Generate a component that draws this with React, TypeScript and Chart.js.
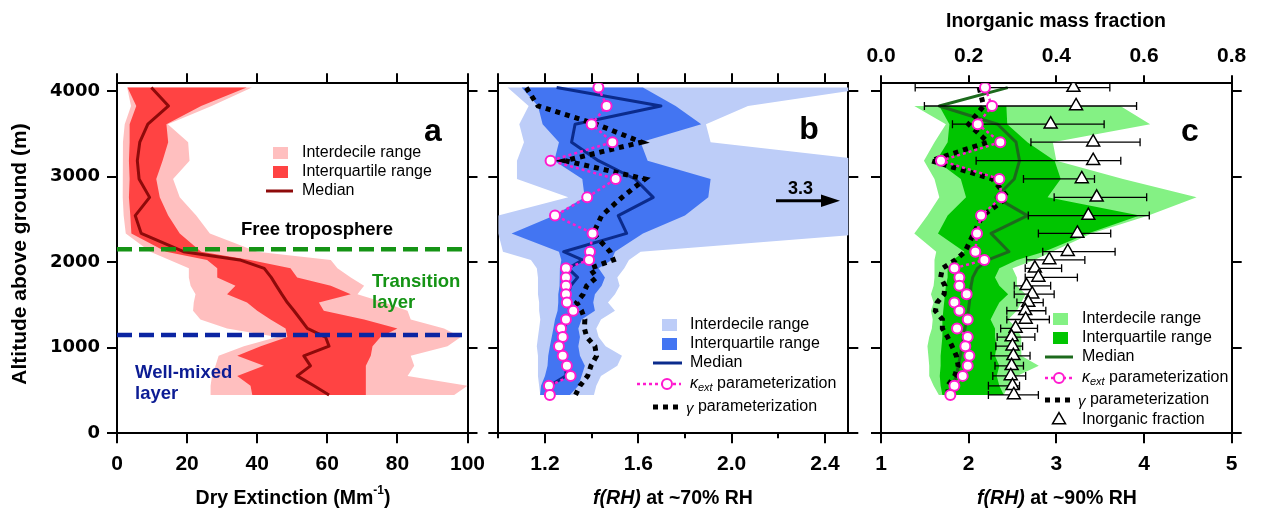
import React, { useEffect, useRef } from 'react';
import { Chart, registerables } from 'chart.js';

Chart.register(...registerables);

// ======================= DATA =======================
// Altitude levels (m above ground) shared by the three profiles
const ALT = [4040, 3825, 3612, 3402, 3186, 2972, 2757, 2544, 2336, 2122, 2026, 1928, 1822, 1723, 1626, 1528, 1432, 1330, 1225, 1125, 1018, 905, 788, 671, 555, 448];
const Y_TICKS = [0, 1000, 2000, 3000, 4000];

// Panel a: dry extinction (Mm-1)
const A_P10 = [2.9, 4.0, 2.2, 1.7, 1.7, 1.7, 1.5, 1.9, 2.5, 9.5, 15, 20.5, 20.5, 21, 22.4, 21.9, 21.7, 23.8, 31.4, 45.7, 36.2, 29, 28.1, 27.1, 26.7, 26.7];
const A_P25 = [3.0, 5.5, 3.6, 3.6, 3.4, 3.6, 3.4, 3.8, 4.1, 14, 25.7, 28.6, 28.6, 33.8, 31.4, 37.1, 40, 43.8, 48.1, 48.6, 41, 34.3, 41.9, 34.3, 38.1, 38.6];
const A_MED = [9.8, 14.7, 8.8, 6.5, 5.8, 6.3, 9.3, 5.2, 6.9, 19, 35, 42, 44, 45.5, 47, 48.6, 50.5, 52.4, 54.3, 59.5, 60.5, 53.3, 55.2, 51.4, 56.2, 60.5];
const A_P75 = [37, 24, 14.1, 14.6, 13, 11.2, 12.2, 14.6, 17.9, 24, 38, 49.5, 51.4, 61, 66.7, 57.6, 59, 70.5, 80, 75.2, 72.9, 72.4, 71, 71, 71, 71];
const A_P90 = [38.5, 27, 14.5, 20.3, 20.7, 16, 17.9, 22.6, 26.5, 40, 61, 62.9, 66.7, 70.5, 68.6, 76.2, 82.9, 83.8, 93.3, 98.1, 94.3, 83.8, 84.8, 82.9, 100, 96.2];
const FREE_TROPOSPHERE_ALT = 2150;
const MIXED_LAYER_TOP_ALT = 1148;
const A_X_TICKS = [0, 20, 40, 60, 80, 100];

// Panel b: f(RH) at ~70% RH
const B_P10 = [1.04, 1.13, 1.09, 1.11, 1.08, 1.08, 1.30, 1.0, 1.0, 1.02, 1.14, 1.165, 1.17, 1.17, 1.17, 1.175, 1.175, 1.18, 1.175, 1.17, 1.165, 1.17, 1.17, 1.17, 1.175, 1.18];
const B_P25 = [1.10, 1.17, 1.19, 1.26, 1.24, 1.36, 1.37, 1.24, 1.057, 1.26, 1.27, 1.264, 1.264, 1.261, 1.257, 1.257, 1.254, 1.243, 1.236, 1.229, 1.221, 1.214, 1.211, 1.20, 1.183, 1.179];
const B_MED = [1.25, 1.697, 1.329, 1.314, 1.429, 1.586, 1.664, 1.514, 1.55, 1.28, 1.36, 1.30, 1.34, 1.31, 1.30, 1.29, 1.31, 1.30, 1.28, 1.28, 1.27, 1.28, 1.29, 1.29, 1.22, 1.22];
const B_P75 = [1.62, 1.76, 1.87, 1.61, 1.64, 1.91, 1.90, 1.80, 1.62, 1.50, 1.486, 1.43, 1.457, 1.443, 1.414, 1.407, 1.414, 1.357, 1.343, 1.35, 1.343, 1.35, 1.371, 1.357, 1.343, 1.307];
const B_P90 = [2.6, 2.07, 1.89, 1.91, 2.6, 3.3, 3.3, 2.6, 2.6, 1.61, 1.56, 1.54, 1.51, 1.52, 1.50, 1.47, 1.50, 1.44, 1.42, 1.43, 1.46, 1.53, 1.51, 1.44, 1.42, 1.41];
const B_KAPPA = [1.429, 1.464, 1.40, 1.489, 1.224, 1.503, 1.381, 1.243, 1.404, 1.393, 1.389, 1.29, 1.29, 1.29, 1.29, 1.294, 1.321, 1.29, 1.269, 1.276, 1.26, 1.276, 1.294, 1.31, 1.217, 1.221];
const B_GAMMA = [1.12, 1.17, 1.42, 1.614, 1.286, 1.629, 1.53, 1.443, 1.407, 1.479, 1.493, 1.393, 1.421, 1.379, 1.364, 1.336, 1.357, 1.371, 1.369, 1.379, 1.414, 1.421, 1.397, 1.383, 1.35, 1.331];
const B_X_TICKS = [1.0, 1.2, 1.4, 1.6, 1.8, 2.0, 2.2, 2.4];
const B_X_MAJOR = [1.2, 1.6, 2.0, 2.4];
const B_X_MINOR = [1.0, 1.4, 1.8, 2.2];
const B_OFFSCALE_LABEL = '3.3';

// Panel c: f(RH) at ~90% RH (bottom) and inorganic mass fraction (top)
const C_BAND_ALT = ALT.slice(1);
const C_P10 = [1.38, 1.74, 1.61, 1.49, 1.61, 1.665, 1.53, 1.38, 1.63, 1.61, 1.61, 1.61, 1.60, 1.57, 1.60, 1.57, 1.59, 1.58, 1.55, 1.53, 1.54, 1.55, 1.55, 1.60, 1.66];
const C_P25 = [1.665, 1.78, 1.76, 1.63, 1.91, 1.97, 1.76, 1.65, 1.95, 1.82, 1.76, 1.76, 1.74, 1.73, 1.72, 1.71, 1.70, 1.70, 1.70, 1.69, 1.68, 1.68, 1.67, 1.68, 1.70];
const C_P75 = [2.43, 2.44, 2.67, 2.98, 3.05, 2.90, 3.95, 3.36, 2.86, 2.55, 2.35, 2.30, 2.35, 2.45, 2.35, 2.30, 2.25, 2.30, 2.30, 2.32, 2.30, 2.35, 2.32, 2.35, 2.40];
const C_P90 = [3.73, 4.07, 2.96, 3.0, 3.76, 4.6, 4.05, 3.4, 2.95, 2.75, 2.50, 2.55, 2.55, 2.65, 2.60, 2.55, 2.45, 2.55, 2.60, 2.60, 2.60, 2.80, 2.55, 2.45, 2.40];
const C_MED = [2.445, 1.665, 2.33, 2.54, 2.58, 2.52, 2.31, 2.67, 2.255, 2.46, 2.22, 2.10, 2.046, 2.027, 2.02, 2.008, 1.996, 1.981, 1.958, 1.943, 1.924, 1.905, 1.882, 1.859, 1.818, 1.76];
const C_KAPPA = [2.186, 2.266, 2.103, 2.361, 1.684, 2.35, 2.376, 2.141, 2.095, 2.076, 2.179, 1.837, 1.894, 1.894, 1.977, 1.837, 1.894, 1.989, 1.867, 1.989, 1.962, 2.008, 1.989, 1.932, 1.837, 1.791];
const C_GAMMA = [2.12, 2.17, 2.0, 2.22, 1.57, 2.27, 2.445, 2.16, 2.057, 1.958, 1.85, 1.70, 1.68, 1.73, 1.72, 1.64, 1.62, 1.70, 1.70, 1.76, 1.81, 1.86, 1.88, 1.84, 1.76, 1.77];
const C_FRAC = [0.439, 0.445, 0.387, 0.484, 0.484, 0.458, 0.492, 0.473, 0.448, 0.426, 0.384, 0.351, 0.359, 0.332, 0.345, 0.336, 0.329, 0.330, 0.307, 0.298, 0.300, 0.302, 0.298, 0.296, 0.300, 0.303];
const C_FRAC_LO = [0.078, 0.099, 0.163, 0.342, 0.217, 0.325, 0.395, 0.336, 0.359, 0.369, 0.332, 0.329, 0.329, 0.304, 0.304, 0.310, 0.287, 0.287, 0.273, 0.265, 0.262, 0.251, 0.260, 0.255, 0.245, 0.245];
const C_FRAC_HI = [0.522, 0.583, 0.509, 0.591, 0.547, 0.487, 0.606, 0.612, 0.524, 0.534, 0.465, 0.412, 0.448, 0.387, 0.395, 0.370, 0.376, 0.384, 0.357, 0.351, 0.323, 0.340, 0.325, 0.330, 0.316, 0.359];
const C_X_TICKS = [1, 2, 3, 4, 5];
const C_TOP_TICKS = [0, 0.2, 0.4, 0.6, 0.8];

// ======================= LAYOUT / STYLE =======================
const W = 1265;
const H = 515;
const PLOT_TOP = 83.3;
const PLOT_BOTTOM = 433.3;
const Y_MAX = 4090;
const A_LEFT = 117, A_RIGHT = 467.5;
const B_LEFT = 498.3, B_RIGHT = 848.3;
const C_LEFT = 881, C_RIGHT = 1231.7;
const TICK = 10;
const X_TITLE_Y = 499;

const SANS = '"Liberation Sans", Arial, Helvetica, sans-serif';
const DEJAVU = '"DejaVu Sans", Verdana, sans-serif';
const F = (size: number, weight = 'normal', style = 'normal') => `${style} ${weight} ${size}px ${SANS}`;
const X_TICK_FONT = { family: SANS, weight: 'bold', size: 21, lineHeight: 1 };
const Y_TICK_FONT = { family: DEJAVU, weight: 'bold', size: 18, lineHeight: 1 };

const A_LIGHT = '#FFBFBF';
const A_DARK = '#FF4343';
const A_LINE = '#8E0A0A';
const FT_GREEN = '#159415';
const ML_BLUE = '#0B25A2';
const ML_TEXT = '#0C1C94';
const B_LIGHT = '#BDCDF8';
const B_DARK = '#4375F2';
const B_LINE = '#0B2B8C';
const MAGENTA = '#FF1ACF';
const C_LIGHT = '#84F184';
const C_DARK = '#00C500';
const C_LINE = '#1C6A1C';

// ======================= HELPERS =======================
const pts = (xs: number[], ys: number[]) => xs.map((x, i) => ({ x, y: ys[i] }));
const band = (lo: number[], hi: number[], ys: number[]) => [...pts(lo, ys), ...pts(hi, ys).reverse()];
const errorBars = (lo: number[], hi: number[], ys: number[]) =>
  ys.flatMap((y, i) => [{ x: lo[i], y }, { x: hi[i], y }, { x: null as any, y }]);

function axis(position: string, min: number, max: number, ticks: number[], o: any) {
  const vertical = position === 'left' || position === 'right';
  return {
    type: 'linear',
    axis: vertical ? 'y' : 'x',
    position,
    min,
    max,
    bounds: 'data',
    afterBuildTicks: (s: any) => { s.ticks = ticks.map((v) => ({ value: v })); },
    afterFit: (s: any) => { if (vertical) s.width = o.size; else s.height = o.size; },
    grid: { display: true, drawOnChartArea: false, drawTicks: true, tickLength: o.tickLength ?? TICK, tickWidth: 2, tickColor: '#000', color: '#000', lineWidth: 2 },
    border: { display: true, color: '#000', width: 2 },
    ticks: o.label
      ? { display: true, autoSkip: false, maxRotation: 0, minRotation: 0, color: '#000', font: o.font, padding: o.padding ?? 0, callback: (v: any) => o.label(Number(v)) }
      : { display: false },
    title: { display: false },
  };
}

function baseOptions(padding: any, scales: any) {
  return {
    responsive: false,
    maintainAspectRatio: false,
    animation: false,
    devicePixelRatio: 1,
    events: [],
    layout: { padding },
    plugins: { legend: { display: false }, tooltip: { enabled: false }, title: { display: false } },
    elements: { line: { tension: 0 } },
    scales,
  };
}

const bandDs = (label: string, lo: number[], hi: number[], ys: number[], color: string, order: number) => ({
  type: 'line', label, data: band(lo, hi, ys), fill: 'shape', backgroundColor: color,
  borderColor: 'rgba(0,0,0,0)', borderWidth: 0, pointRadius: 0, order, xAxisID: 'x', yAxisID: 'y',
});
const lineDs = (label: string, xs: number[], ys: number[], color: string, width: number, order: number, extra: any = {}) => ({
  type: 'line', label, data: pts(xs, ys), borderColor: color, borderWidth: width, pointRadius: 0, fill: false,
  borderJoinStyle: 'round', order, xAxisID: 'x', yAxisID: 'y', ...extra,
});
const kappaDs = (xs: number[], order: number) => lineDs('κext parameterization', xs, ALT, MAGENTA, 2.5, order, {
  borderDash: [3, 3], pointRadius: 5, pointStyle: 'circle', pointBackgroundColor: '#fff', pointBorderColor: MAGENTA, pointBorderWidth: 2,
});
const gammaDs = (xs: number[], order: number) => lineDs('γ parameterization', xs, ALT, '#000', 5, order, { borderDash: [5, 5], borderCapStyle: 'butt', borderJoinStyle: 'miter' });

type Part = { s: string; font: string; dy?: number; color?: string };
function drawParts(ctx: CanvasRenderingContext2D, parts: Part[], x: number, y: number, align = 'left', color = '#000') {
  ctx.textBaseline = 'middle';
  ctx.textAlign = 'left';
  let total = 0;
  for (const p of parts) { ctx.font = p.font; total += ctx.measureText(p.s).width; }
  let cx = align === 'center' ? x - total / 2 : x;
  for (const p of parts) {
    ctx.font = p.font;
    ctx.fillStyle = p.color || color;
    ctx.fillText(p.s, cx, y + (p.dy || 0));
    cx += ctx.measureText(p.s).width;
  }
}
const label = (ctx: any, s: string, x: number, y: number) => drawParts(ctx, [{ s, font: F(16) }], x, y);
function swatch(ctx: any, x: number, cy: number, color: string) {
  ctx.fillStyle = color;
  ctx.fillRect(x, cy - 6, 15, 12);
}
function hline(ctx: any, x1: number, x2: number, y: number, color: string, width: number, dash: number[] = []) {
  ctx.save();
  ctx.strokeStyle = color; ctx.lineWidth = width; ctx.setLineDash(dash); ctx.lineCap = 'butt';
  ctx.beginPath(); ctx.moveTo(x1, y); ctx.lineTo(x2, y); ctx.stroke();
  ctx.restore();
}
function circle(ctx: any, x: number, y: number) {
  ctx.beginPath(); ctx.arc(x, y, 5, 0, Math.PI * 2);
  ctx.fillStyle = '#fff'; ctx.fill(); ctx.strokeStyle = MAGENTA; ctx.lineWidth = 2; ctx.stroke();
}
function triangle(ctx: any, x: number, y: number, r: number) {
  ctx.beginPath();
  for (let k = 0; k < 3; k++) {
    const a = (k * 2 * Math.PI) / 3;
    const px = x + Math.sin(a) * r, py = y - Math.cos(a) * r;
    if (k === 0) ctx.moveTo(px, py); else ctx.lineTo(px, py);
  }
  ctx.closePath(); ctx.fillStyle = '#fff'; ctx.fill(); ctx.strokeStyle = '#000'; ctx.lineWidth = 1.5; ctx.stroke();
}
const kappaLabel = (): Part[] => [
  { s: 'κ', font: F(16, 'normal', 'italic') },
  { s: 'ext', font: F(11, 'normal', 'italic'), dy: 4 },
  { s: ' parameterization', font: F(16) },
];
const gammaLabel = (): Part[] => [
  { s: 'γ', font: F(15, 'normal', 'italic'), dy: 2 },
  { s: ' parameterization', font: F(16) },
];
const decor = (fn: (ctx: CanvasRenderingContext2D, chart: any) => void) => ({
  id: 'decor',
  afterDraw(chart: any) { const ctx = chart.ctx; ctx.save(); fn(ctx, chart); ctx.restore(); },
});

// ======================= PANELS =======================
function makeA(canvas: HTMLCanvasElement) {
  return new Chart(canvas, {
    type: 'line',
    data: {
      datasets: [
        lineDs('Free troposphere', [A_X_TICKS[0], A_X_TICKS[A_X_TICKS.length - 1]], [FREE_TROPOSPHERE_ALT, FREE_TROPOSPHERE_ALT], FT_GREEN, 4.5, 1, { borderDash: [15, 7], borderJoinStyle: 'miter' }),
        lineDs('Well-mixed layer', [A_X_TICKS[0], A_X_TICKS[A_X_TICKS.length - 1]], [MIXED_LAYER_TOP_ALT, MIXED_LAYER_TOP_ALT], ML_BLUE, 4.5, 1, { borderDash: [15, 7], borderJoinStyle: 'miter' }),
        lineDs('Median', A_MED, ALT, A_LINE, 3, 2),
        bandDs('Interquartile range', A_P25, A_P75, ALT, A_DARK, 8),
        bandDs('Interdecile range', A_P10, A_P90, ALT, A_LIGHT, 9),
      ],
    },
    options: baseOptions({ left: 0, right: W - A_RIGHT - TICK, top: PLOT_TOP - TICK, bottom: 0 }, {
      x: axis('bottom', 0, 100, A_X_TICKS, { size: H - PLOT_BOTTOM, font: X_TICK_FONT, padding: 10.6, label: (v: number) => String(v) }),
      xTop: axis('top', 0, 100, A_X_TICKS, { size: TICK }),
      y: axis('left', 0, Y_MAX, Y_TICKS, { size: A_LEFT, font: Y_TICK_FONT, padding: 7, label: (v: number) => String(v) }),
      yR: axis('right', 0, Y_MAX, Y_TICKS, { size: TICK }),
    }),
    plugins: [decor((ctx) => {
      ctx.save();
      ctx.translate(20.7, 254);
      ctx.rotate(-Math.PI / 2);
      drawParts(ctx, [{ s: 'Altitude above ground (m)', font: F(21, 'bold') }], 0, 0, 'center');
      ctx.restore();
      drawParts(ctx, [
        { s: 'Dry Extinction (Mm', font: F(19.5, 'bold') },
        { s: '-1', font: F(12, 'bold'), dy: -8 },
        { s: ')', font: F(19.5, 'bold') },
      ], 293, X_TITLE_Y, 'center');
      drawParts(ctx, [{ s: 'a', font: F(32, 'bold') }], 433, 132, 'center');
      swatch(ctx, 273, 153, A_LIGHT);
      swatch(ctx, 273, 172, A_DARK);
      hline(ctx, 266, 293, 191, A_LINE, 3);
      label(ctx, 'Interdecile range', 302, 153);
      label(ctx, 'Interquartile range', 302, 172);
      label(ctx, 'Median', 302, 191);
      drawParts(ctx, [{ s: 'Free troposphere', font: F(18.5, 'bold') }], 317, 230, 'center');
      drawParts(ctx, [{ s: 'Transition', font: F(18.5, 'bold') }], 372, 282, 'left', FT_GREEN);
      drawParts(ctx, [{ s: 'layer', font: F(18.5, 'bold') }], 372, 303, 'left', FT_GREEN);
      drawParts(ctx, [{ s: 'Well-mixed', font: F(18.5, 'bold') }], 135, 373, 'left', ML_TEXT);
      drawParts(ctx, [{ s: 'layer', font: F(18.5, 'bold') }], 135, 394, 'left', ML_TEXT);
    })],
  } as any);
}

function makeB(canvas: HTMLCanvasElement) {
  return new Chart(canvas, {
    type: 'line',
    data: {
      datasets: [
        kappaDs(B_KAPPA, 1),
        gammaDs(B_GAMMA, 2),
        lineDs('Median', B_MED, ALT, B_LINE, 3, 3),
        bandDs('Interquartile range', B_P25, B_P75, ALT, B_DARK, 8),
        bandDs('Interdecile range', B_P10, B_P90, ALT, B_LIGHT, 9),
      ],
    },
    options: baseOptions({ left: B_LEFT - TICK, right: W - B_RIGHT - TICK, top: PLOT_TOP - TICK, bottom: 0 }, {
      x: axis('bottom', 1.0, 2.5, B_X_MAJOR, { size: H - PLOT_BOTTOM, font: X_TICK_FONT, padding: 10.6, label: (v: number) => v.toFixed(1) }),
      xTop: axis('top', 1.0, 2.5, B_X_TICKS, { size: TICK }),
      y: axis('left', 0, Y_MAX, Y_TICKS, { size: TICK }),
      yR: axis('right', 0, Y_MAX, Y_TICKS, { size: TICK }),
    }),
    plugins: [decor((ctx, chart) => {
      const xs = chart.scales.x;
      ctx.strokeStyle = '#000';
      ctx.lineWidth = 2;
      for (const v of B_X_MINOR) {
        const px = Math.round(xs.getPixelForValue(v));
        ctx.beginPath(); ctx.moveTo(px, chart.chartArea.bottom); ctx.lineTo(px, chart.chartArea.bottom + 5); ctx.stroke();
      }
      drawParts(ctx, [
        { s: 'f(RH)', font: F(19.5, 'bold', 'italic') },
        { s: ' at ~70% RH', font: F(19.5, 'bold') },
      ], 673, X_TITLE_Y, 'center');
      drawParts(ctx, [{ s: 'b', font: F(32, 'bold') }], 809, 130, 'center');
      drawParts(ctx, [{ s: B_OFFSCALE_LABEL, font: F(18, 'bold') }], 800.5, 189.5, 'center');
      hline(ctx, 776, 826, 200.7, '#000', 3);
      ctx.beginPath(); ctx.moveTo(821, 194.5); ctx.lineTo(840, 200.7); ctx.lineTo(821, 206.9); ctx.closePath();
      ctx.fillStyle = '#000'; ctx.fill();
      swatch(ctx, 662, 325, B_LIGHT);
      swatch(ctx, 662, 344, B_DARK);
      hline(ctx, 653, 682, 363, B_LINE, 3);
      hline(ctx, 637, 681, 384, MAGENTA, 2.5, [3, 3]);
      circle(ctx, 667, 384);
      hline(ctx, 653, 681, 407, '#000', 5, [5, 5]);
      label(ctx, 'Interdecile range', 690, 325);
      label(ctx, 'Interquartile range', 690, 344);
      label(ctx, 'Median', 690, 363);
      drawParts(ctx, kappaLabel(), 690, 384);
      drawParts(ctx, gammaLabel(), 686, 407);
    })],
  } as any);
}

function makeC(canvas: HTMLCanvasElement) {
  return new Chart(canvas, {
    type: 'line',
    data: {
      datasets: [
        kappaDs(C_KAPPA, 1),
        gammaDs(C_GAMMA, 2),
        {
          type: 'line', label: 'Inorganic fraction', data: pts(C_FRAC, ALT), showLine: false,
          pointStyle: 'triangle', pointRadius: 7.5, pointBackgroundColor: '#fff', pointBorderColor: '#000', pointBorderWidth: 1.5,
          order: 3, xAxisID: 'x2', yAxisID: 'y',
        },
        {
          type: 'line', label: 'Inorganic fraction range', data: errorBars(C_FRAC_LO, C_FRAC_HI, ALT), spanGaps: false,
          borderColor: '#000', borderWidth: 1.3, pointStyle: 'line', pointRotation: 90, pointRadius: 4,
          pointBorderColor: '#000', pointBorderWidth: 1.3, order: 4, xAxisID: 'x2', yAxisID: 'y',
        },
        lineDs('Median', C_MED, ALT, C_LINE, 3, 5),
        bandDs('Interquartile range', C_P25, C_P75, C_BAND_ALT, C_DARK, 8),
        bandDs('Interdecile range', C_P10, C_P90, C_BAND_ALT, C_LIGHT, 9),
      ],
    },
    options: baseOptions({ left: C_LEFT - TICK, right: W - C_RIGHT - TICK, top: 0, bottom: 0 }, {
      x: axis('bottom', 1, 5, C_X_TICKS, { size: H - PLOT_BOTTOM, font: X_TICK_FONT, padding: 10.6, label: (v: number) => String(v) }),
      x2: axis('top', 0, 0.8, C_TOP_TICKS, { size: PLOT_TOP, tickLength: 8, font: X_TICK_FONT, padding: 9, label: (v: number) => v.toFixed(1) }),
      y: axis('left', 0, Y_MAX, Y_TICKS, { size: TICK }),
      yR: axis('right', 0, Y_MAX, Y_TICKS, { size: TICK }),
    }),
    plugins: [decor((ctx) => {
      drawParts(ctx, [
        { s: 'f(RH)', font: F(19.5, 'bold', 'italic') },
        { s: ' at ~90% RH', font: F(19.5, 'bold') },
      ], 1057, X_TITLE_Y, 'center');
      drawParts(ctx, [{ s: 'Inorganic mass fraction', font: F(19.5, 'bold') }], 1056, 21.5, 'center');
      drawParts(ctx, [{ s: 'c', font: F(32, 'bold') }], 1190, 132, 'center');
      swatch(ctx, 1053, 319, C_LIGHT);
      swatch(ctx, 1053, 338, C_DARK);
      hline(ctx, 1045, 1073, 357, C_LINE, 3);
      hline(ctx, 1045, 1075, 378, MAGENTA, 2.5, [3, 3]);
      circle(ctx, 1059, 378);
      hline(ctx, 1045, 1073, 400, '#000', 5, [5, 5]);
      triangle(ctx, 1059, 420, 7.5);
      label(ctx, 'Interdecile range', 1082, 319);
      label(ctx, 'Interquartile range', 1082, 338);
      label(ctx, 'Median', 1082, 357);
      drawParts(ctx, kappaLabel(), 1082, 378);
      drawParts(ctx, gammaLabel(), 1078, 400);
      label(ctx, 'Inorganic fraction', 1082, 420);
    })],
  } as any);
}

function PanelCanvas({ make }: { make: (c: HTMLCanvasElement) => Chart }) {
  const ref = useRef<HTMLCanvasElement>(null);
  useEffect(() => {
    const chart = make(ref.current as HTMLCanvasElement);
    return () => chart.destroy();
  }, [make]);
  return <canvas ref={ref} width={W} height={H} style={{ position: 'absolute', left: 0, top: 0, width: W, height: H }} />;
}

export default function App() {
  return (
    <div style={{ position: 'absolute', left: 0, top: 0, width: W, height: H, background: '#fff', overflow: 'hidden' }}>
      <PanelCanvas make={makeA} />
      <PanelCanvas make={makeB} />
      <PanelCanvas make={makeC} />
    </div>
  );
}
